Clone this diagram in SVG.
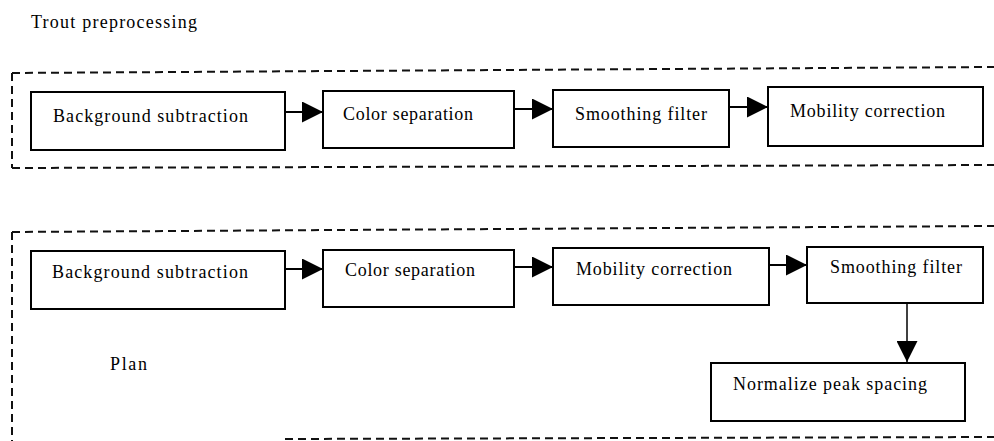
<svg xmlns="http://www.w3.org/2000/svg" width="994" height="441" viewBox="0 0 994 441">
<style>
.bg{fill:#fff}
.box{fill:#fff;stroke:#000;stroke-width:2}
.dash{fill:none;stroke:#111;stroke-width:2;stroke-dasharray:8 5}
.lbl{font-family:'Liberation Serif','DejaVu Serif','Times New Roman',serif;font-size:18px;fill:#000}
.conn{stroke:#000;stroke-width:2;fill:none;marker-end:url(#ah)}
.conn.v{stroke-width:1.5}
</style>
<defs>
<marker id="ah" markerUnits="userSpaceOnUse" markerWidth="21" markerHeight="21" viewBox="0 0 20 20" refX="20" refY="10" orient="auto">
<path d="M0,0 L20,10 L0,20 z" fill="#000"/>
</marker>
</defs>
<rect class="bg" x="0" y="0" width="994" height="441"/>
<text class="lbl" x="31" y="28" textLength="166" font-family="Liberation Serif, DejaVu Serif, serif">Trout preprocessing</text>
<g id="section-trout">
<path class="dash" d="M12,73 L994,67"/>
<path class="dash" d="M12,73 L12,168"/>
<path class="dash" d="M12,168 L994,165"/>
</g>
<g id="section-plan">
<path class="dash" d="M12,232 L994,226"/>
<path class="dash" d="M12,232 L12,441"/>
<path class="dash" d="M285,439 L994,437"/>
<text class="lbl" x="110" y="370" textLength="37" font-family="Liberation Serif, DejaVu Serif, serif">Plan</text>
</g>
<g id="t1"><rect class="box" x="31" y="92" width="254" height="58"/><text class="lbl" x="53" y="122" textLength="195" font-family="Liberation Serif, DejaVu Serif, serif">Background subtraction</text></g>
<g id="t2"><rect class="box" x="323" y="91" width="191" height="57"/><text class="lbl" x="343" y="120" textLength="130" font-family="Liberation Serif, DejaVu Serif, serif">Color separation</text></g>
<g id="t3"><rect class="box" x="553" y="90" width="176" height="57"/><text class="lbl" x="575" y="120" textLength="132" font-family="Liberation Serif, DejaVu Serif, serif">Smoothing filter</text></g>
<g id="t4"><rect class="box" x="768" y="87" width="215" height="59"/><text class="lbl" x="790" y="117" textLength="155" font-family="Liberation Serif, DejaVu Serif, serif">Mobility correction</text></g>
<g id="p1"><rect class="box" x="31" y="251" width="254" height="58"/><text class="lbl" x="52" y="278" textLength="196" font-family="Liberation Serif, DejaVu Serif, serif">Background subtraction</text></g>
<g id="p2"><rect class="box" x="323" y="250" width="191" height="57"/><text class="lbl" x="345" y="276" textLength="130" font-family="Liberation Serif, DejaVu Serif, serif">Color separation</text></g>
<g id="p3"><rect class="box" x="553" y="248" width="216" height="57"/><text class="lbl" x="576" y="275" textLength="156" font-family="Liberation Serif, DejaVu Serif, serif">Mobility correction</text></g>
<g id="p4"><rect class="box" x="807" y="247" width="176" height="56"/><text class="lbl" x="830" y="273" textLength="132" font-family="Liberation Serif, DejaVu Serif, serif">Smoothing filter</text></g>
<g id="p5"><rect class="box" x="711" y="363" width="254" height="58"/><text class="lbl" x="733" y="390" textLength="194" font-family="Liberation Serif, DejaVu Serif, serif">Normalize peak spacing</text></g>
<g id="connectors">
<line class="conn" x1="285" y1="112" x2="323" y2="112"/>
<line class="conn" x1="514" y1="109" x2="553" y2="109"/>
<line class="conn" x1="729" y1="107" x2="768" y2="107"/>
<line class="conn" x1="285" y1="269" x2="323" y2="269"/>
<line class="conn" x1="514" y1="267" x2="553" y2="267"/>
<line class="conn" x1="769" y1="265" x2="807" y2="265"/>
<line class="conn v" x1="907" y1="303" x2="907" y2="362"/>
</g>
</svg>
